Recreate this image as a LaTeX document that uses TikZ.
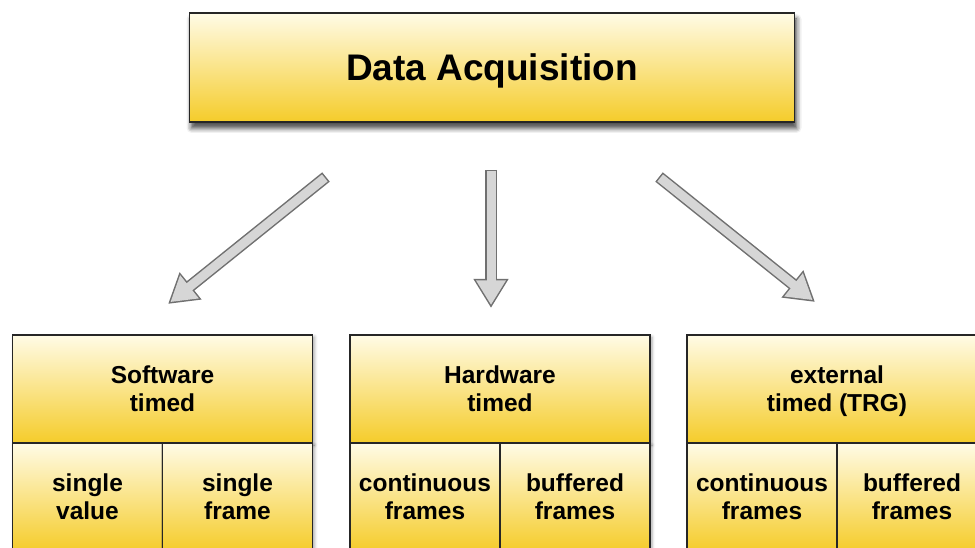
\documentclass[tikz,border=0pt]{standalone}
\usepackage{fontspec}
\setmainfont{Liberation Sans}
\usetikzlibrary{arrows.meta, shadows.blur}

\definecolor{boxtop}{HTML}{FFFBE6}
\definecolor{boxbot}{HTML}{F5CC2A}
\definecolor{arrowfill}{HTML}{D6D6D6}
\definecolor{arrowedge}{HTML}{707070}

\tikzset{
  yellowbox/.style={draw=black!85, line width=1.5pt, outer sep=0pt, inner sep=0pt,
    top color=boxtop, bottom color=boxbot, align=center, text depth=0pt,
    font=\fontsize{24.5}{28}\selectfont\bfseries,
    blur shadow={shadow xshift=2pt, shadow yshift=-2pt, shadow blur radius=3pt, shadow opacity=35}},
  cell/.style={yellowbox, minimum width=150pt, minimum height=108pt},
  fatarrow/.style={draw=arrowfill, line width=9pt, shorten <=1.5pt, shorten >=3pt,
    -{Triangle[width=28pt,length=24.5pt]},
    preaction={draw=arrowedge, line width=12pt, shorten <=0pt, shorten >=0pt,
      -{Triangle[width=33pt,length=29pt]}}}
}

\begin{document}
\begin{tikzpicture}[x=1pt, y=-1pt]
    \useasboundingbox (0,0) rectangle (975,548);

    \node[yellowbox, minimum width=605pt, minimum height=109pt,
          font=\fontsize{37}{44}\selectfont\bfseries,
          blur shadow={shadow xshift=2pt, shadow yshift=-6pt, shadow blur radius=5pt, shadow opacity=45}]
          (daq) at (492,67.5) {Data Acquisition};

    % three groups of timing modes
    \node[yellowbox, minimum width=300pt, minimum height=108pt] (sw) at (162.5,389) {Software\\timed};
    \node[cell, anchor=north west] (swvalue) at (sw.south west) {single\\value};
    \node[cell, anchor=north east] (swframe) at (sw.south east) {single\\frame};

    \node[yellowbox, minimum width=300pt, minimum height=108pt] (hw) at (500,389) {Hardware\\timed};
    \node[cell, anchor=north west] (hwcont) at (hw.south west) {continuous\\frames};
    \node[cell, anchor=north east] (hwbuf) at (hw.south east) {buffered\\frames};

    \node[yellowbox, minimum width=300pt, minimum height=108pt] (trg) at (837,389) {external\\timed (TRG)};
    \node[cell, anchor=north west] (trgcont) at (trg.south west) {continuous\\frames};
    \node[cell, anchor=north east] (trgbuf) at (trg.south east) {buffered\\frames};

    \coordinate (swfrom) at (326,177);
    \coordinate (swto) at (168,304);
    \coordinate (hwfrom) at (491,170);
    \coordinate (hwto) at (491,308);
    \coordinate (trgfrom) at (659,177);
    \coordinate (trgto) at (815,302);

    \draw[fatarrow] (swfrom) -- (swto);
    \draw[fatarrow] (hwfrom) -- (hwto);
    \draw[fatarrow] (trgfrom) -- (trgto);
\end{tikzpicture}
\end{document}
